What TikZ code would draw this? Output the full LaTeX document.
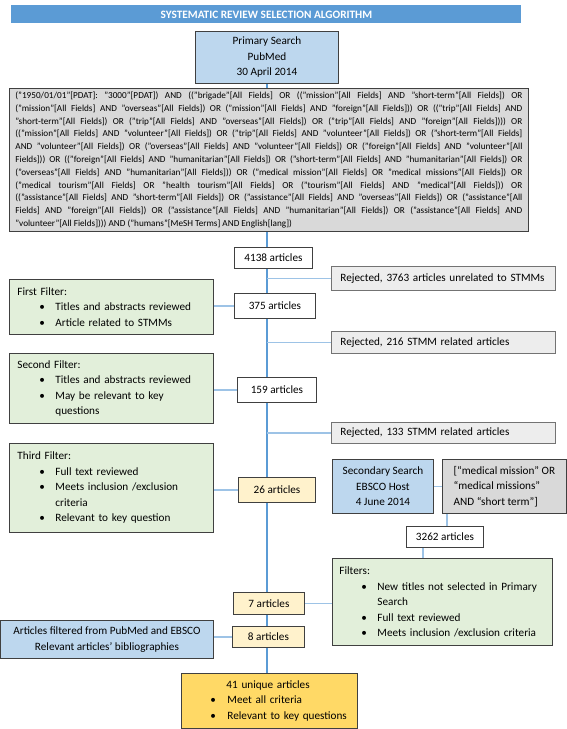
\documentclass[tikz,border=0pt]{standalone}
\usepackage{fontspec}
\setmainfont{Carlito}
\definecolor{titleblue}{HTML}{5B9BD5}
\definecolor{searchfill}{HTML}{BDD7EE}
\definecolor{queryfill}{HTML}{D9D9D9}
\definecolor{rejectfill}{HTML}{EDEDED}
\definecolor{filterfill}{HTML}{E2EFDA}
\definecolor{hitfill}{HTML}{FFF2CC}
\definecolor{finalfill}{HTML}{FFD966}
\definecolor{boxline}{HTML}{404040}
\definecolor{spineblue}{HTML}{5B9BD5}
\definecolor{connblue}{HTML}{9DC3E6}
% bullet line of a filter box
\newcommand{\critem}[1]{\\\hspace*{22pt}\makebox[16pt][l]{\textbullet}#1}
\newcommand{\critcont}[1]{\\\hspace*{38pt}#1}
\begin{document}
\begin{tikzpicture}[x=1pt, y=-1pt,
    box/.style={draw=boxline, line width=0.9pt, inner sep=0pt, anchor=north west,
                align=center, font=\fontsize{11.2}{15.5}\selectfont},
    count/.style={box, fill=white},
    hit/.style={box, fill=hitfill},
    search/.style={box, fill=searchfill},
    query/.style={box, fill=queryfill},
    reject/.style={box, fill=rejectfill, draw=black!55, align=left, text width=206pt},
    filterbox/.style={box, fill=filterfill, align=left},
    spine/.style={draw=spineblue, line width=1.2pt},
    conn/.style={draw=connblue, line width=1.8pt}
]

\useasboundingbox (0,0) rectangle (567,729);
\coordinate (spine) at (267,0);

% Titolo
\node[box, draw=none, fill=titleblue, text=white, font=\fontsize{11.3}{12}\selectfont\bfseries,
      minimum width=510pt, minimum height=18pt] at (11,5) (title)
    {SYSTEMATIC REVIEW SELECTION ALGORITHM};

% Ricerca primaria
\node[search, minimum width=143pt, minimum height=52pt] at (195,31) (prim)
    {Primary Search\\PubMed\\30 April 2014};

\node[query, align=justify, text width=507pt, minimum width=519pt, minimum height=143pt,
      font=\fontsize{9.2}{12.8}\selectfont] at (9,88) (pmquery) {%
("1950/01/01"[PDAT]: "3000"[PDAT]) AND (("brigade"[All Fields] OR (("mission"[All Fields] AND "short-term"[All Fields]) OR\linebreak
("mission"[All Fields] AND "overseas"[All Fields]) OR ("mission"[All Fields] AND "foreign"[All Fields])) OR (("trip"[All Fields] AND\linebreak
"short-term"[All Fields]) OR ("trip"[All Fields] AND "overseas"[All Fields]) OR ("trip"[All Fields] AND "foreign"[All Fields]))) OR\linebreak
(("mission"[All Fields] AND "volunteer"[All Fields]) OR ("trip"[All Fields] AND "volunteer"[All Fields]) OR ("short-term"[All Fields]\linebreak
AND "volunteer"[All Fields]) OR ("overseas"[All Fields] AND "volunteer"[All Fields]) OR ("foreign"[All Fields] AND "volunteer"[All\linebreak
Fields])) OR (("foreign"[All Fields] AND "humanitarian"[All Fields]) OR ("short-term"[All Fields] AND "humanitarian"[All Fields]) OR\linebreak
("overseas"[All Fields] AND "humanitarian"[All Fields])) OR ("medical mission"[All Fields] OR "medical missions"[All Fields]) OR\linebreak
("medical tourism"[All Fields] OR "health tourism"[All Fields] OR ("tourism"[All Fields] AND "medical"[All Fields])) OR\linebreak
(("assistance"[All Fields] AND "short-term"[All Fields]) OR ("assistance"[All Fields] AND "overseas"[All Fields]) OR ("assistance"[All\linebreak
Fields] AND "foreign"[All Fields]) OR ("assistance"[All Fields] AND "humanitarian"[All Fields]) OR ("assistance"[All Fields] AND\linebreak
"volunteer"[All Fields]))) AND ("humans"[MeSH Terms] AND English[lang])};

% Conteggi lungo la colonna centrale
\node[count, minimum width=78pt, minimum height=21pt] at (234,247) (n4138) {4138 articles};
\node[count, minimum width=81pt, minimum height=25pt] at (234,293) (n375) {375 articles};
\node[count, minimum width=79pt, minimum height=25pt] at (237,377) (n159) {159 articles};
\node[hit, minimum width=77pt, minimum height=25pt] at (238,477) (n26) {26 articles};
\node[hit, minimum width=71pt, minimum height=22pt] at (233,592) (n7) {7 articles};
\node[hit, minimum width=72pt, minimum height=21pt] at (232,626) (n8) {8 articles};

% Articoli scartati
\node[reject, minimum width=224pt, minimum height=24pt] at (331,266) (rej1)
    {Rejected, 3763 articles unrelated to STMMs};
\node[reject, minimum width=224pt, minimum height=22pt] at (331,331) (rej2)
    {Rejected, 216 STMM related articles};
\node[reject, minimum width=224pt, minimum height=21pt] at (331,422) (rej3)
    {Rejected, 133 STMM related articles};

% Filtri
\node[filterbox, text width=188pt, minimum width=204pt, minimum height=55pt] at (9,279) (filt1)
    {First Filter:\critem{Titles and abstracts reviewed}\critem{Article related to STMMs}};
\node[filterbox, text width=188pt, minimum width=204pt, minimum height=70pt] at (9,353) (filt2)
    {Second Filter:\critem{Titles and abstracts reviewed}\critem{May be relevant to key}\critcont{questions}};
\node[filterbox, text width=188pt, minimum width=204pt, minimum height=89pt] at (9,443) (filt3)
    {Third Filter:\critem{Full text reviewed}\critem{Meets inclusion /exclusion}\critcont{criteria}\critem{Relevant to key question}};

% Ricerca secondaria
\node[search, minimum width=101pt, minimum height=54pt] at (332,459) (sec)
    {Secondary Search\\EBSCO Host\\4 June 2014};
\node[query, align=left, minimum width=124pt, minimum height=54pt] at (442,459) (ebquery)
    {[“medical mission” OR\\“medical missions”\\AND “short term”]};
\node[count, minimum width=77pt, minimum height=21pt] at (406,526) (n3262) {3262 articles};
\node[filterbox, text width=206pt, minimum width=220pt, minimum height=87pt] at (332,558) (filts)
    {Filters:\critem{New titles not selected in Primary}\critcont{Search}\critem{Full text reviewed}\critem{Meets inclusion /exclusion criteria}};

% Bibliografie
\node[search, minimum width=213pt, minimum height=38pt] at (0,620) (biblio)
    {Articles filtered from PubMed and EBSCO\\Relevant articles’ bibliographies};

% Risultato finale
\node[box, fill=finalfill, align=left, text width=164pt, minimum width=176pt, minimum height=55pt] at (181,673) (final)
    {\hspace*{39pt}41 unique articles\\
     \hspace*{23pt}\makebox[17pt][l]{\textbullet}Meet all criteria\\
     \hspace*{23pt}\makebox[17pt][l]{\textbullet}Relevant to key questions};

% Colonna centrale
\draw[spine] (prim.south) -- (prim.south |- pmquery.north);
\draw[spine] (pmquery.south -| spine) -- (n4138.north -| spine);
\draw[spine] (n4138.south -| spine) -- (n375.north -| spine);
\draw[spine] (n375.south -| spine) -- (n159.north -| spine);
\draw[spine] (n159.south -| spine) -- (n26.north -| spine);
\draw[spine] (n26.south -| spine) -- (n7.north -| spine);
\draw[spine] (n7.south -| spine) -- (n8.north -| spine);
\draw[spine] (n8.south -| spine) -- (final.north -| spine);

% Rami verso gli scarti
\foreach \r in {rej1,rej2,rej3} {
    \draw[conn] (\r.west -| spine) -- (\r.west);
}

% Collegamenti dei filtri
\draw[conn] (filt1.east |- n375.west) -- (n375.west);
\draw[conn] (filt2.east |- n159.west) -- (n159.west);
\draw[conn] (filt3.east |- n26.west) -- (n26.west);
\draw[conn] (biblio.east |- n8.west) -- (n8.west);
\draw[conn] (n7.east) -- (n7.east -| filts.west);
\draw[conn] (sec.east) -- (ebquery.west);
\draw[conn] ([xshift=5pt]ebquery.south west) -- ([xshift=5pt]ebquery.south west |- n3262.north);
\draw[conn] ([xshift=17pt]n3262.south west) -- ([xshift=17pt]n3262.south west |- filts.north);

\end{tikzpicture}
\end{document}
